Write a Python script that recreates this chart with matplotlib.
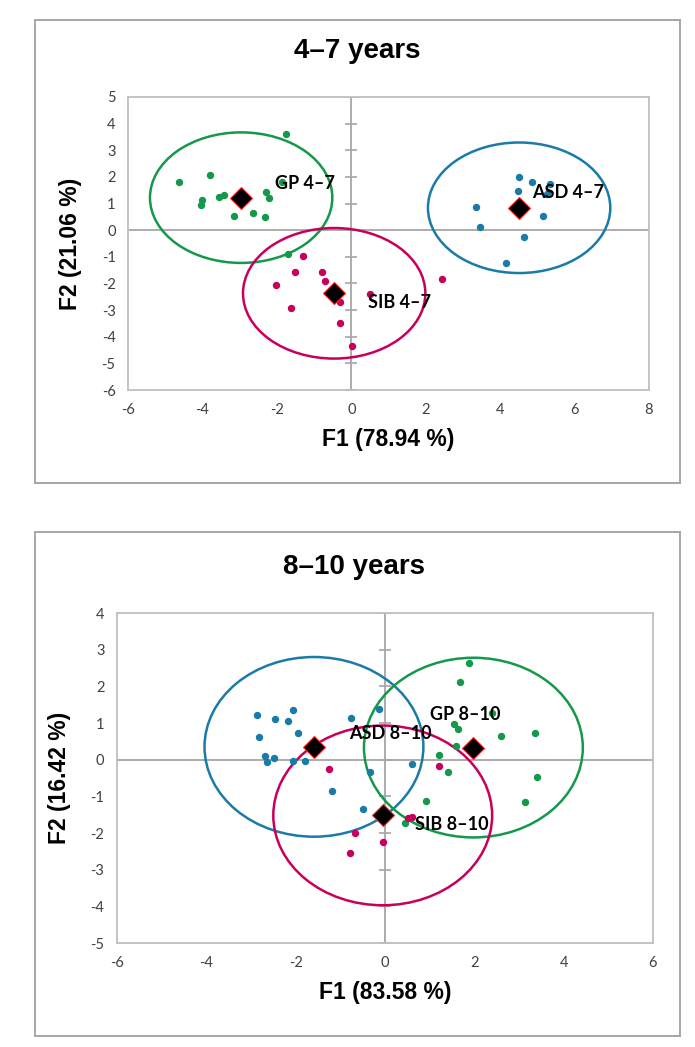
import matplotlib.pyplot as plt
from matplotlib.patches import Ellipse, Rectangle
import numpy as np

BLUE = '#1a7aa8'
GREEN = '#14994a'
PINK = '#c8005c'

# ---- 4-7 years
asd47_x = [4.51, 4.85, 5.34, 4.48, 5.25, 3.34, 5.15, 3.47, 4.64, 4.15]
asd47_y = [2.01, 1.81, 1.75, 1.47, 1.35, 0.87, 0.53, 0.11, -0.24, -1.23]
gp47_x = [-1.76, -4.62, -3.79, -4.00, -4.04, -3.55, -3.42, -2.28, -2.22, -3.15, -2.65, -2.32, -1.70, -1.85]
gp47_y = [3.62, 1.81, 2.07, 1.12, 0.93, 1.24, 1.32, 1.42, 1.19, 0.55, 0.63, 0.50, -0.88, 1.80]
sib47_x = [-1.30, -1.51, -0.78, -0.71, -2.02, -1.63, -0.31, -0.31, 0.02, 0.51, 2.43]
sib47_y = [-0.97, -1.58, -1.57, -1.89, -2.04, -2.93, -2.71, -3.49, -4.34, -2.39, -1.84]
cent47 = {'ASD 4\u20137': (4.51, 0.84), 'GP 4\u20137': (-2.96, 1.22), 'SIB 4\u20137': (-0.46, -2.37)}
label47 = {'ASD 4\u20137': (4.86, 1.41), 'GP 4\u20137': (-2.04, 1.75), 'SIB 4\u20137': (0.44, -2.73)}

# ---- 8-10 years
asd810_x = [-2.87, -2.46, -2.16, -2.07, -2.82, -1.95, -2.69, -2.65, -2.48, -2.05, -1.78,
            -0.75, -0.13, 0.61, -0.34, -1.19, -0.50]
asd810_y = [1.22, 1.10, 1.06, 1.35, 0.61, 0.72, 0.11, -0.05, 0.04, -0.03, -0.03,
            1.13, 1.38, -0.12, -0.34, -0.86, -1.34]
gp810_x = [1.89, 1.68, 2.40, 1.54, 1.63, 2.60, 3.37, 1.58, 1.22, 1.42, 3.40, 3.14, 0.92, 0.45]
gp810_y = [2.65, 2.13, 1.26, 0.97, 0.85, 0.65, 0.72, 0.38, 0.13, -0.34, -0.46, -1.15, -1.12, -1.74]
sib810_x = [-1.25, 1.22, 0.52, 0.60, -0.68, -0.78, -0.04]
sib810_y = [-0.25, -0.17, -1.60, -1.55, -2.01, -2.55, -2.25]
cent810 = {'ASD 8\u201310': (-1.59, 0.35), 'GP 8\u201310': (1.98, 0.33), 'SIB 8\u201310': (-0.05, -1.52)}
label810 = {'ASD 8\u201310': (-0.80, 0.72), 'GP 8\u201310': (1.00, 1.22), 'SIB 8\u201310': (0.67, -1.78)}

RADIUS = 2.45


def draw_panel(ax, groups, cents, labels, xlim, ylim, xlab, ylab):
    ax.set_xlim(*xlim)
    ax.set_ylim(*ylim)
    for s in ax.spines.values():
        s.set_color('#bfbfbf')
        s.set_linewidth(1.3)
    ax.axhline(0, color='#a6a6a6', lw=1.3, zorder=1)
    ax.axvline(0, color='#a6a6a6', lw=1.3, zorder=1)
    yt = np.arange(ylim[0], ylim[1] + 1)
    ax.plot(np.zeros(len(yt)), yt, ls='none', marker='_', ms=9, mew=1.2, color='#a6a6a6', zorder=1)

    for (xs, ys, col), name in zip(groups, cents):
        ax.plot(xs, ys, ls='none', marker='o', ms=4.3, color=col, zorder=3)
        cx, cy = cents[name]
        ax.add_patch(Ellipse((cx, cy), 2 * RADIUS, 2 * RADIUS, fill=False, ec=col, lw=1.8, zorder=2))
        ax.plot(cx, cy, marker='D', ms=11, mfc='black', mec='#ff2020', mew=0.8, zorder=4)
        lx, ly = labels[name]
        ax.text(lx, ly, name, fontsize=13, fontweight='bold', family='Lato',
                va='center', ha='left', zorder=5)

    ax.set_xticks(np.arange(xlim[0], xlim[1] + 1, 2))
    ax.set_yticks(yt)
    ax.tick_params(length=0, labelsize=10.5, labelcolor='#404040', pad=9)
    for t in ax.get_xticklabels() + ax.get_yticklabels():
        t.set_family('Lato')
    ax.set_xlabel(xlab, fontsize=16.5, fontweight='bold', labelpad=8)
    ax.set_ylabel(ylab, fontsize=16.5, fontweight='bold', labelpad=14)


plt.rcParams['font.family'] = ['Liberation Sans', 'DejaVu Sans']
plt.rcParams['axes.unicode_minus'] = False
fig = plt.figure(figsize=(6.95, 10.47), dpi=100)

for (x0, y0, w, h) in [(0.0504, 0.5387, 0.928, 0.4422), (0.0504, 0.0105, 0.928, 0.4814)]:
    fig.patches.append(Rectangle((x0, y0), w, h, transform=fig.transFigure,
                                 fill=False, ec='#a6a6a6', lw=1.4))

ax1 = fig.add_axes([0.1842, 0.6275, 0.7496, 0.2799])
draw_panel(ax1, [(asd47_x, asd47_y, BLUE), (gp47_x, gp47_y, GREEN), (sib47_x, sib47_y, PINK)],
           cent47, label47, (-6, 8), (-6, 5), 'F1 (78.94 %)', 'F2 (21.06 %)')
fig.text(0.514, 0.9513, '4\u20137 years', fontsize=20, fontweight='bold', ha='center', va='center')

ax2 = fig.add_axes([0.1683, 0.0993, 0.7712, 0.3152])
draw_panel(ax2, [(asd810_x, asd810_y, BLUE), (gp810_x, gp810_y, GREEN), (sib810_x, sib810_y, PINK)],
           cent810, label810, (-6, 6), (-5, 4), 'F1 (83.58 %)', 'F2 (16.42 %)')
fig.text(0.51, 0.4585, '8\u201310 years', fontsize=20, fontweight='bold', ha='center', va='center')

fig.savefig('out.png', dpi=100)
